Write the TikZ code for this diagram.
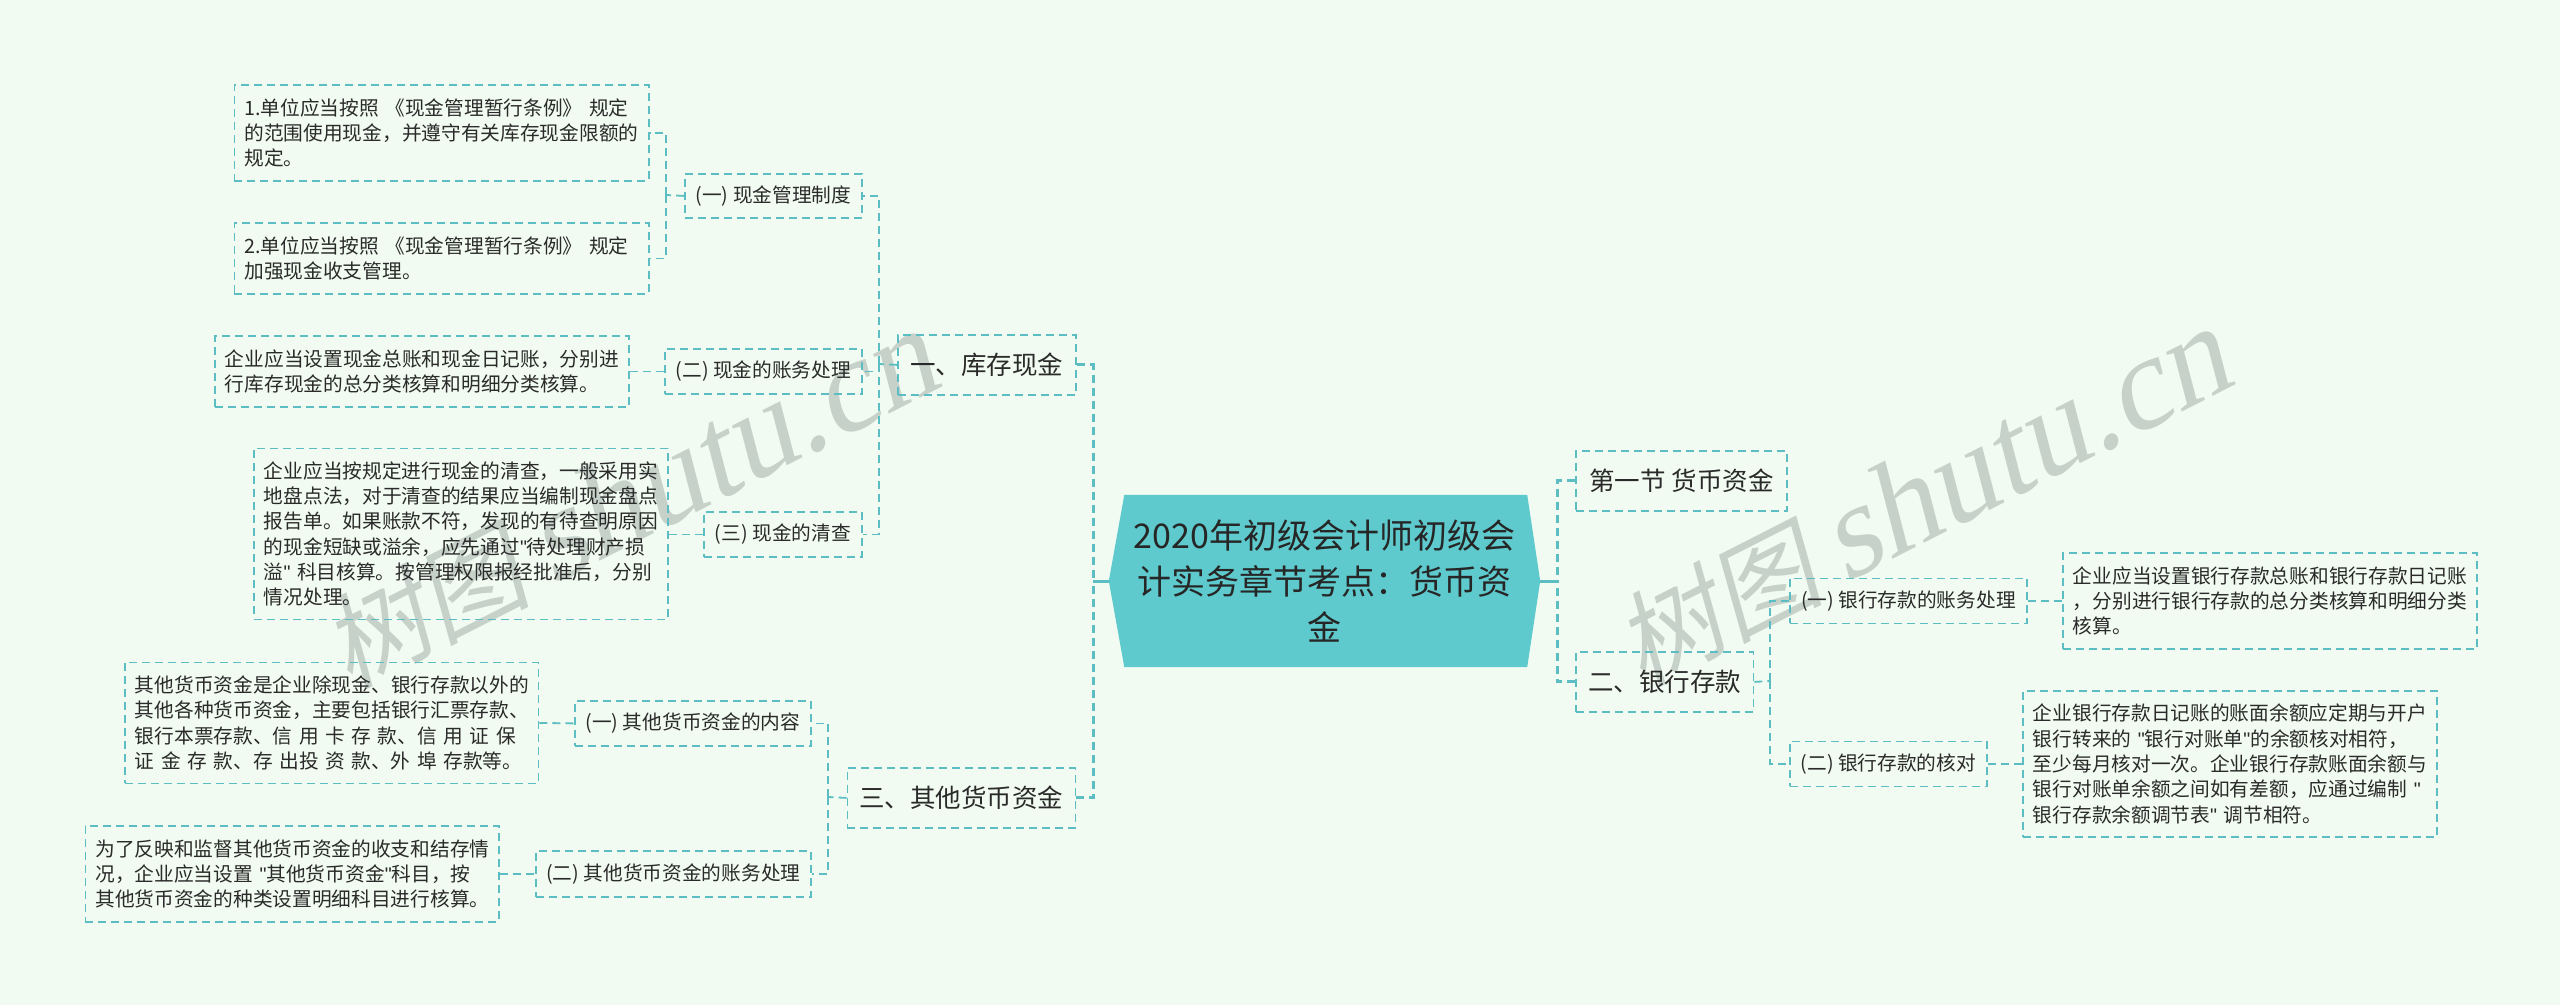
\documentclass[tikz,border=0pt]{standalone}
\usepackage{fontspec}
\setmainfont{Noto Sans CJK SC}
\newfontfamily\wmcjk[FakeSlant=0.2]{Noto Sans CJK SC}
\newfontfamily\wmlat[FakeSlant=0.22]{Liberation Serif}
\newfontfamily\qfont{Liberation Sans}
\newcommand{\qq}{{\qfont\char34\relax}}
\usetikzlibrary{backgrounds}
\definecolor{pagebg}{HTML}{F1FBF1}
\definecolor{linecol}{HTML}{5CBEC2}
\definecolor{rootcol}{HTML}{5FCACD}
\definecolor{inkcol}{HTML}{2A2A2A}
\definecolor{wmcol}{HTML}{C6D1CA}
\tikzset{
  dashline/.style={draw=linecol,line width=1.8pt,dash pattern=on 8pt off 5pt},
  textbox/.style 2 args={dashline,anchor=north west,minimum width=#1pt,minimum height=#2pt,
    text width=#1pt-20pt,inner xsep=10pt,inner ysep=0pt,align=left,text=inkcol,
    font=\fontsize{19.7}{25.3}\selectfont},
  subbox/.style 2 args={dashline,anchor=north west,minimum width=#1pt,minimum height=#2pt,
    inner sep=0pt,align=center,text=inkcol,font=\fontsize{19.7}{25.3}\selectfont},
  topbox/.style 2 args={dashline,anchor=north west,minimum width=#1pt,minimum height=#2pt,
    inner sep=0pt,align=center,text=inkcol,font=\fontsize{25.5}{30}\selectfont},
  rootbox/.style={anchor=center,minimum width=431pt,minimum height=172pt,inner sep=0pt,
    align=center,text=black!85,font=\fontsize{34}{45.6}\selectfont},
  conn/.style={dashline},
  bigconn/.style={draw=linecol,line width=3pt,dash pattern=on 8pt off 5pt},
  rootconn/.style={draw=linecol,line width=3pt},
  watermark/.style={text=wmcol,rotate=27,anchor=center,inner sep=0pt},
}
\newcommand{\wmtext}{{\fontsize{104}{104}\selectfont\wmcjk 树图}\hspace{20pt}{\fontsize{131}{131}\selectfont\wmlat shutu.cn}}
\begin{document}
\begin{tikzpicture}[x=1pt,y=-1pt]
\useasboundingbox (0,0) rectangle (2560,1005);
\begin{pgfonlayer}{background}
\fill[pagebg] (0,0) rectangle (2560,1005);
\end{pgfonlayer}
\node[watermark] (wm1) at (628,501) {\wmtext};
\node[watermark] (wm2) at (1921,499) {\wmtext};

% root
\node[rootbox] (root) at (1324.5,581) {2020年初级会计师初级会\\计实务章节考点：货币资\\金};
\begin{pgfonlayer}{background}
\fill[rootcol] (root.west) -- ([xshift=15.5pt]root.north west) -- ([xshift=-13pt]root.north east)
  -- (root.east) -- ([xshift=-13pt]root.south east) -- ([xshift=15.5pt]root.south west) -- cycle;
\end{pgfonlayer}

% left top level
\node[topbox={178}{60}] (t1) at (897,334) {一、库存现金};
\node[topbox={228}{60}] (t3) at (846.5,767) {三、其他货币资金};
% right top level
\node[topbox={211}{60}] (t0) at (1575,450) {第一节 货币资金};
\node[topbox={177.5}{60}] (t2) at (1575,651) {二、银行存款};

% left second level
\node[subbox={177}{44}] (n1) at (684,173) {(一) 现金管理制度};
\node[subbox={197}{45}] (n2) at (664,348) {(二) 现金的账务处理};
\node[subbox={158}{45}] (n3) at (703,511) {(三) 现金的清查};
\node[subbox={236}{45}] (n4) at (574,700) {(一) 其他货币资金的内容};
\node[subbox={275}{46}] (n5) at (535,850) {(二) 其他货币资金的账务处理};
% right second level
\node[subbox={237}{45}] (n6) at (1789,577.5) {(一) 银行存款的账务处理};
\node[subbox={197}{45}] (n7) at (1789,740.5) {(二) 银行存款的核对};

% leaves
\node[textbox={414.5}{96}] (a1) at (233.5,84) {1.单位应当按照 《现金管理暂行条例》 规定\\的范围使用现金，并遵守有关库存现金限额的\\规定。};
\node[textbox={414.5}{71}] (a2) at (233.5,222) {2.单位应当按照 《现金管理暂行条例》 规定\\加强现金收支管理。};
\node[textbox={414}{71}] (a3) at (214,335) {企业应当设置现金总账和现金日记账，分别进\\行库存现金的总分类核算和明细分类核算。};
\node[textbox={414}{171}] (a4) at (253,447.5) {企业应当按规定进行现金的清查，一般采用实\\地盘点法，对于清查的结果应当编制现金盘点\\报告单。如果账款不符，发现的有待查明原因\\的现金短缺或溢余，应先通过\qq 待处理财产损\\溢\qq~科目核算。按管理权限报经批准后，分别\\情况处理。};
\node[textbox={413.5}{121}] (a5) at (124,661.5) {其他货币资金是企业除现金、银行存款以外的\\其他各种货币资金，主要包括银行汇票存款、\\银行本票存款、信 用 卡 存 款、信 用 证 保\\证 金 存 款、存 出投 资 款、外 埠 存款等。};
\node[textbox={413.5}{96}] (a6) at (84.5,825) {为了反映和监督其他货币资金的收支和结存情\\况，企业应当设置~\qq 其他货币资金\qq 科目，按\\其他货币资金的种类设置明细科目进行核算。};
\node[textbox={414}{96}] (r1) at (2062,552) {企业应当设置银行存款总账和银行存款日记账\\，分别进行银行存款的总分类核算和明细分类\\核算。};
\node[textbox={414}{146}] (r2) at (2022,690) {企业银行存款日记账的账面余额应定期与开户\\银行转来的~\qq 银行对账单\qq 的余额核对相符，\\至少每月核对一次。企业银行存款账面余额与\\银行对账单余额之间如有差额，应通过编制~\qq \\银行存款余额调节表\qq~调节相符。};

% junctions
\coordinate (j1) at (666,195);
\coordinate (j2) at (879,364);
\coordinate (j3) at (828,797);
\coordinate (j4) at (1770,681);
\coordinate (jl) at (1093,581);
\coordinate (jr) at (1557,581);

% connectors
\draw[rootconn] (root.west) -- (jl);
\draw[rootconn] (root.east) -- (jr);
\draw[bigconn] (t1.east) -- (t1.east -| jl) -- (jl);
\draw[bigconn] (t3.east) -- (t3.east -| jl) -- (jl);
\draw[bigconn] (t0.west) -- (t0.west -| jr) -- (jr);
\draw[bigconn] (t2.west) -- (t2.west -| jr) -- (jr);

\draw[conn] (t1.west) -- (j2);
\draw[conn] (j2) |- (n1.east);
\draw[conn] (j2) |- (n2.east);
\draw[conn] (j2) |- (n3.east);

\draw[conn] (n1.west) -- (j1);
\draw[conn] (j1) |- (a1.east);
\draw[conn] (j1) |- (a2.east);

\draw[conn] (a3.east) -- (n2.west);
\draw[conn] (a4.east |- n3.west) -- (n3.west);

\draw[conn] (t3.west) -- (j3);
\draw[conn] (j3) |- (n4.east);
\draw[conn] (j3) |- (n5.east);
\draw[conn] (a5.east) -- (n4.west);
\draw[conn] (a6.east) -- (n5.west);

\draw[conn] (t2.east) -- (j4);
\draw[conn] (j4) |- (n6.west);
\draw[conn] (j4) |- (n7.west);
\draw[conn] (n6.east) -- (r1.west);
\draw[conn] (n7.east) -- (r2.west);
\end{tikzpicture}
\end{document}
